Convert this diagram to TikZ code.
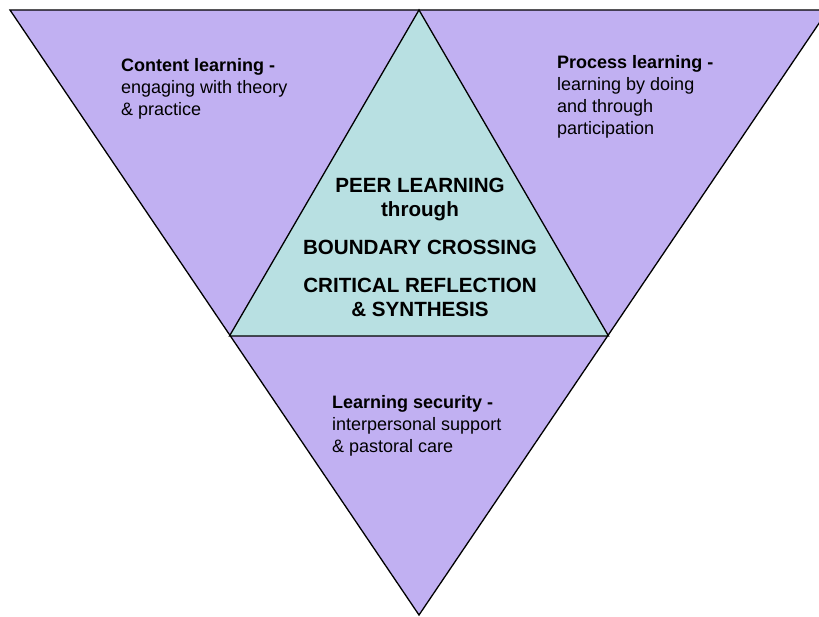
\documentclass[tikz,border=0pt]{standalone}
\usepackage{fontspec}
\setmainfont{Liberation Sans}
\usepackage{tikz}
\definecolor{lilac}{RGB}{193,176,242}
\definecolor{paleteal}{RGB}{184,224,226}
\tikzstyle{wedge} = [fill=lilac, draw, line width=1.3pt, line join=miter]
\tikzstyle{core} = [fill=paleteal, draw, line width=1.3pt, line join=miter]
\tikzstyle{caption} = [anchor=north west, align=left, inner sep=0pt, font=\fontsize{18}{22}\selectfont]
\tikzstyle{title} = [anchor=north, align=center, inner sep=0pt, font=\bfseries\fontsize{20.6}{24}\selectfont]

\begin{document}
\begin{tikzpicture}[x=1pt, y=-1pt]
			\clip (0,0) rectangle (819,617);
			% corners of the big triangle and the inner one
			\coordinate (tl) at (10,10);
			\coordinate (tr) at (828,10);
			\coordinate (bot) at (419,615);
			\coordinate (top) at (419,10);
			\coordinate (ml) at (229.5,336);
			\coordinate (mr) at (608.5,336);
			
			\path [wedge] (tl) -- (tr) -- (bot) -- cycle;
			\path [core] (top) -- (ml) -- (mr) -- cycle;
			
			\node [caption] (content) at (121,58) {\textbf{Content learning -}\\engaging with theory\\\& practice};
			\node [caption] (process) at (557,55) {\textbf{Process learning -}\\learning by doing\\and through\\participation};
			\node [caption] (security) at (332,395) {\textbf{Learning security -}\\interpersonal support\\\& pastoral care};
			\node [title] (peer) at (420,178) {PEER LEARNING\\through\\[14pt]BOUNDARY CROSSING\\[14pt]CRITICAL REFLECTION\\\& SYNTHESIS};
		\end{tikzpicture}
\end{document}
